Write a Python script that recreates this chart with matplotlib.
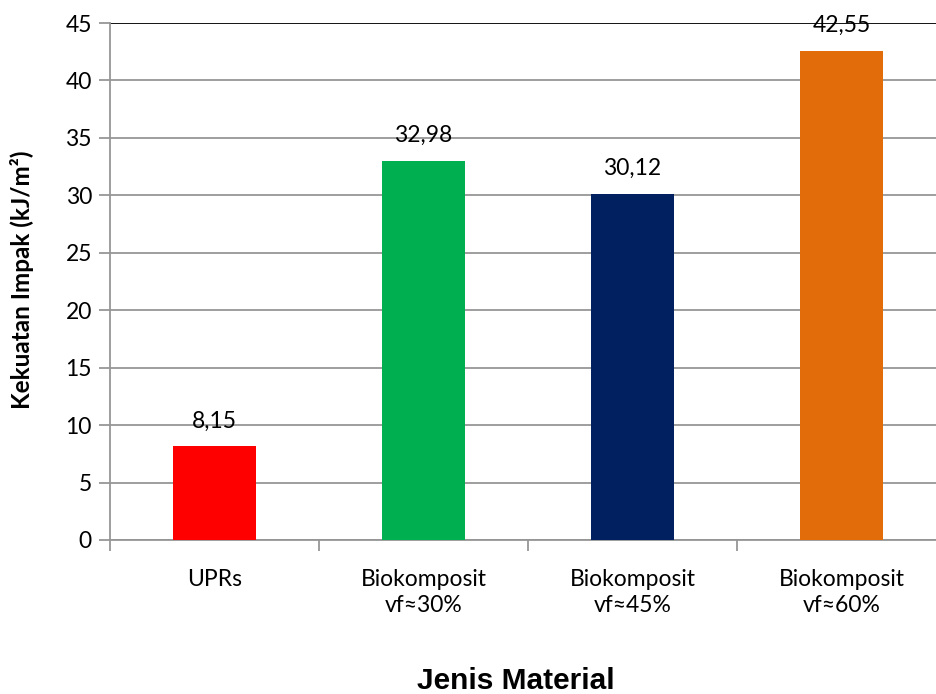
import matplotlib
matplotlib.use("Agg")
import matplotlib.pyplot as plt

categories = ["UPRs", "Biokomposit\nvf≈30%", "Biokomposit\nvf≈45%", "Biokomposit\nvf≈60%"]
values = [8.15, 32.98, 30.12, 42.55]
value_labels = ["8,15", "32,98", "30,12", "42,55"]
colors = ["#FF0000", "#00B050", "#002060", "#E36C0A"]
yticks = [0, 5, 10, 15, 20, 25, 30, 35, 40, 45]

fig = plt.figure(figsize=(9.36, 6.94), dpi=100)
W, H = 936, 694
x0, x1 = 110, 946
y0, y1 = 540, 23
ax = fig.add_axes([x0 / W, 1 - y0 / H, (x1 - x0) / W, (y0 - y1) / H])

pos = list(range(len(values)))
ax.bar(pos, values, width=0.40, color=colors, zorder=3)
ax.set_xlim(-0.5, len(values) - 0.5)
ax.set_ylim(0, 45)

grid_c = "#969696"
for t in yticks[:-1]:
    ax.axhline(t, color=grid_c, lw=1.3, zorder=1)
ax.axhline(45, color="black", lw=1.3, zorder=1)

for s in ["top", "right"]:
    ax.spines[s].set_visible(False)
ax.spines["left"].set_color(grid_c)
ax.spines["bottom"].set_color(grid_c)
ax.spines["left"].set_linewidth(1.3)
ax.spines["bottom"].set_linewidth(1.3)

font = "Lato"
fs = 16.5
ax.set_yticks(yticks)
ax.set_yticklabels([str(t) for t in yticks], fontfamily=font, fontsize=fs)
ax.tick_params(axis="y", length=8, width=1.3, color=grid_c, pad=5)

ax.set_xticks([p + 0.5 for p in pos[:-1]] + [-0.5])
ax.set_xticklabels([])
ax.tick_params(axis="x", length=8, width=1.3, color=grid_c)
for p, c in zip(pos, categories):
    ax.text(p, -2.55, c, ha="center", va="top", fontfamily=font, fontsize=fs,
            linespacing=1.25)

for p, v, lab in zip(pos, values, value_labels):
    ax.text(p, v + 1.65, lab, ha="center", va="baseline", fontfamily=font, fontsize=fs, zorder=4)

fig.text(22 / W, 1 - 280 / H, "Kekuatan Impak (kJ/m²)", rotation=90, ha="center", va="center",
         fontfamily=font, fontweight="bold", fontsize=17.5)
fig.text(516 / W, 1 - 689 / H, "Jenis Material", ha="center", va="baseline",
         fontfamily="Liberation Sans", fontweight="bold", fontsize=21.5)

fig.savefig("out.png", dpi=100)
